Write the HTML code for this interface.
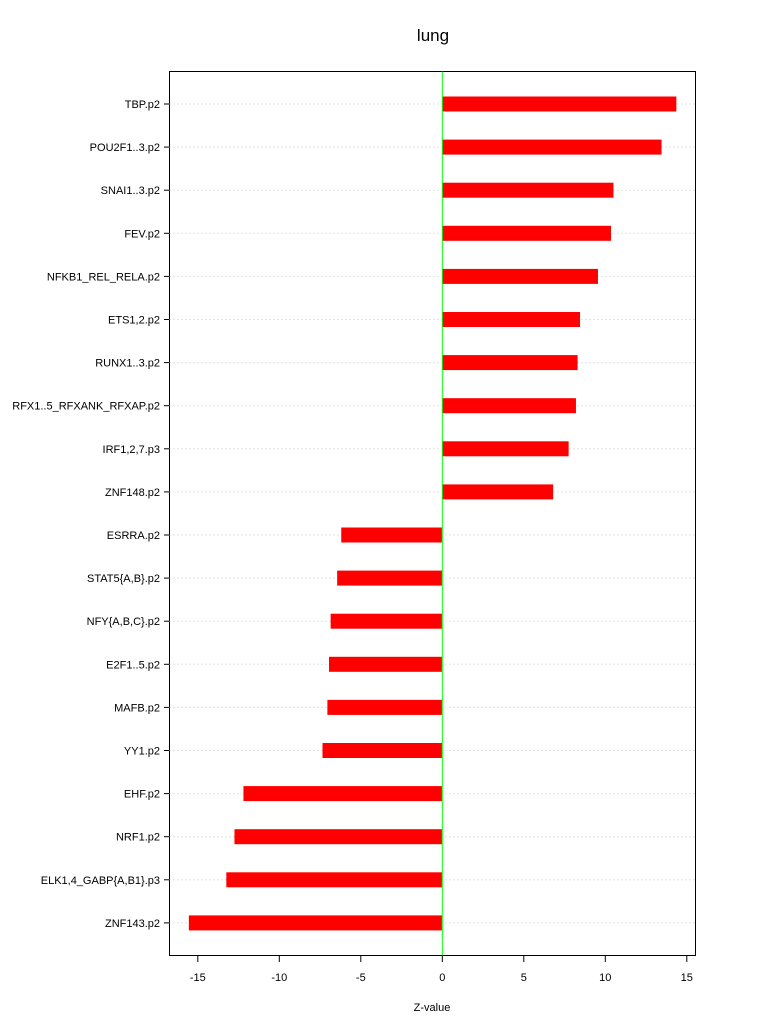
<!DOCTYPE html>
<html><head><meta charset="utf-8"><style>
body{margin:0;background:#fff;}
svg text{font-family:"Liberation Sans",sans-serif;}
</style></head><body>
<svg id="chart" width="768" height="1028" xmlns="http://www.w3.org/2000/svg">
<text x="433" y="41" font-size="17" text-anchor="middle">lung</text>
<rect x="169.5" y="71.5" width="526" height="884" fill="none" stroke="#000" stroke-width="1"/>
<g id="grid"></g><g id="bars"></g><g id="ylab"></g><g id="xaxis"></g>
<line x1="442.3" x2="442.3" y1="71.5" y2="955.5" stroke="#00ff00" stroke-width="1"/>
<text x="432" y="1011" font-size="11" text-anchor="middle">Z-value</text>
</svg>
<script>
const categories=["TBP.p2","POU2F1..3.p2","SNAI1..3.p2","FEV.p2","NFKB1_REL_RELA.p2","ETS1,2.p2","RUNX1..3.p2","RFX1..5_RFXANK_RFXAP.p2","IRF1,2,7.p3","ZNF148.p2","ESRRA.p2","STAT5{A,B}.p2","NFY{A,B,C}.p2","E2F1..5.p2","MAFB.p2","YY1.p2","EHF.p2","NRF1.p2","ELK1,4_GABP{A,B1}.p3","ZNF143.p2"];
const values=[14.36,13.45,10.5,10.35,9.55,8.45,8.3,8.2,7.75,6.8,-6.2,-6.45,-6.85,-6.95,-7.05,-7.35,-12.2,-12.75,-13.25,-15.55];
const xTicks=[-15,-10,-5,0,5,10,15];
const NS="http://www.w3.org/2000/svg";
const x=v=>442.3+v*16.3;
const y=i=>104+i*43.1;
function mk(t,a,p){const e=document.createElementNS(NS,t);for(const k in a)e.setAttribute(k,a[k]);p.appendChild(e);return e;}
const G=document.getElementById('grid'),B=document.getElementById('bars'),L=document.getElementById('ylab'),X=document.getElementById('xaxis');
categories.forEach((c,i)=>{
 const g=mk('line',{x1:169.5,x2:695.5,y1:y(i),y2:y(i),stroke:'#c8c8c8','stroke-dasharray':'1,3'},G);
 
 
 const v=values[i];
 const r=mk('rect',{x:Math.min(x(0),x(v)),y:y(i)-7.5,width:Math.abs(x(v)-x(0)),height:15,fill:'#ff0000'},B);
 
 
 const tk=mk('line',{x1:164,x2:169.5,y1:y(i),y2:y(i),stroke:'#000'},L);
 
 
 const t=mk('text',{x:160,y:y(i)+4,'font-size':'11','text-anchor':'end'},L);t.textContent=c;
 
 
});
xTicks.forEach(v=>{
 const l=mk('line',{x1:x(v),x2:x(v),y1:955.5,y2:962,stroke:'#000'},X);
 
 
 const t=mk('text',{x:x(v),y:981,'font-size':'11','text-anchor':'middle'},X);t.textContent=v;
 
 
});
</script>
</body></html>
